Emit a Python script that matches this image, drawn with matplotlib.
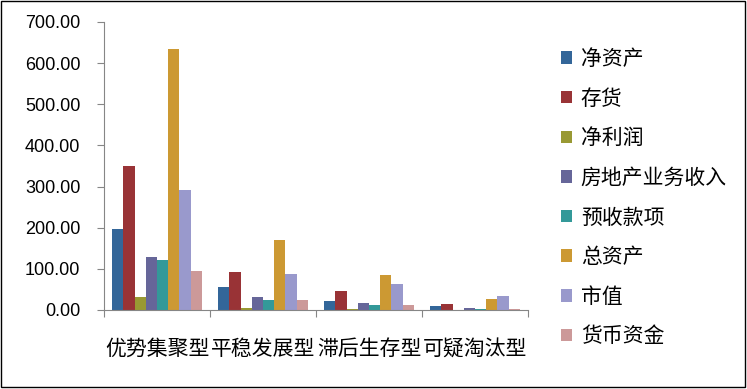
import numpy as np
import matplotlib.pyplot as plt
from matplotlib.patches import Rectangle

plt.rcParams['font.family'] = ['Liberation Sans', 'Noto Sans CJK SC', 'DejaVu Sans']

# Data
categories = ["优势集聚型", "平稳发展型", "滞后生存型", "可疑淘汰型"]
series_names = ["净资产", "存货", "净利润", "房地产业务收入", "预收款项", "总资产", "市值", "货币资金"]
net_assets = [198, 56, 22, 10.5]
inventory = [349, 93, 46, 15.5]
net_profit = [32, 5, 2.5, 0.5]
re_revenue = [129, 32, 17, 5.5]
advance_receipts = [122, 24.5, 12, 3.3]
total_assets = [635, 171, 85.5, 27.5]
market_value = [291, 88, 63.5, 35]
cash = [95, 24.5, 12, 3.3]
series_values = [net_assets, inventory, net_profit, re_revenue,
                  advance_receipts, total_assets, market_value, cash]
y_ticks = np.arange(0, 701, 100)

colors = ["#336699", "#993336", "#999933", "#666699",
          "#339999", "#CC9933", "#9999CC", "#CC9999"]

W, H = 747, 389
fig = plt.figure(figsize=(W / 100, H / 100), dpi=100)
ax = fig.add_axes([104 / W, (H - 310) / H, 424 / W, 288 / H])

x = np.arange(len(categories))
bar_w = 0.106
handles = []
for i, (name, vals) in enumerate(zip(series_names, series_values)):
    b = ax.bar(x + (i - 3.5) * bar_w, vals, bar_w, color=colors[i], label=name, linewidth=0)
    handles.append(b)

ax.set_xlim(-0.5, len(categories) - 0.5)
ax.set_ylim(0, 700)

# y axis
ax.set_yticks(y_ticks)
ax.set_yticklabels([f"{v:.2f}" for v in y_ticks])
ax.tick_params(axis='y', direction='out', length=5, width=0.8, color='#868686',
               labelsize=13, pad=12)

# x axis: boundary ticks, centered labels
ax.set_xticks(np.arange(-0.5, len(categories), 1))
ax.set_xticklabels([])
ax.set_xticks(x, minor=True)
ax.set_xticklabels(categories, minor=True, fontsize=15)
ax.tick_params(axis='x', which='major', direction='out', length=5, width=0.8, color='#868686')
ax.tick_params(axis='x', which='minor', length=0, pad=21)

for s in ['top', 'right']:
    ax.spines[s].set_visible(False)
for s in ['left', 'bottom']:
    ax.spines[s].set_color('#868686')
    ax.spines[s].set_linewidth(0.8)

fig.legend(handles=handles, loc='upper left', bbox_to_anchor=(561 / W, 1 - 49 / H),
           frameon=False, fontsize=15, handlelength=0.55, handleheight=0.55,
           handletextpad=0.4, labelspacing=0.96, borderaxespad=0, borderpad=0)

# outer frame
fig.patches.append(Rectangle((1 / W, 2 / H), 744 / W, 386 / H, transform=fig.transFigure,
                             fill=False, edgecolor='black', linewidth=1))

fig.savefig("out.png", dpi=100)
